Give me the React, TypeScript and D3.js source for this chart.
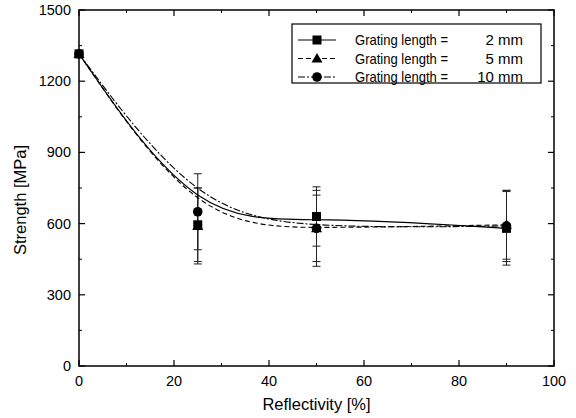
import * as d3 from "d3"
import React from "react"

const reflectivity = [0, 25, 50, 90]
const strength2 = [1315, 595, 630, 580]
const strength5 = [1315, 590, 580, 595]
const strength10 = [1315, 650, 580, 590]
const err2 = [0, 155, 125, 155]
const err5 = [0, 160, 160, 145]
const err10 = [0, 160, 140, 150]
const xTicks = [0, 20, 40, 60, 80, 100]
const yTicks = [0, 300, 600, 900, 1200, 1500]
const legendLabels = ["2 mm", "5 mm", "10 mm"]

const W = 576
const H = 418
const margin = { left: 79, right: 22, top: 10, bottom: 52 }
const font = "Liberation Sans, Arial, sans-serif"

export default function App() {
  const x = d3.scaleLinear().domain([0, 100]).range([margin.left, W - margin.right])
  const y = d3.scaleLinear().domain([0, 1500]).range([H - margin.bottom, margin.top])
  const line = d3.line<number>()
    .x((_, i) => x(reflectivity[i]))
    .y(d => y(d))
    .curve(d3.curveBasis)

  const series = [
    { vals: strength2, err: err2, dash: "none", marker: "square" },
    { vals: strength5, err: err5, dash: "5,3", marker: "triangle" },
    { vals: strength10, err: err10, dash: "7,2,2,2", marker: "circle" },
  ]

  const marker = (type: string, cx: number, cy: number, key?: string) => {
    if (type === "square") return <rect key={key} x={cx - 4.5} y={cy - 4.5} width={9} height={9} fill="#000" />
    if (type === "triangle") return <path key={key} d={`M${cx},${cy - 5.5}L${cx + 5.5},${cy + 4}L${cx - 5.5},${cy + 4}Z`} fill="#000" />
    return <circle key={key} cx={cx} cy={cy} r={4.8} fill="#000" />
  }

  const x0 = x(0), x1 = x(100), y0 = y(0), y1 = y(1500)
  const xMinor = d3.range(10, 100, 20)
  const yMinor = d3.range(150, 1500, 300)

  return (
    <svg width={W} height={H} style={{ position: "absolute", left: 0, top: 0 }}>
      <rect width={W} height={H} fill="#fff" />
      {/* error bars */}
      {series.map((s, si) =>
        s.vals.map((v, i) => s.err[i] > 0 && (
          <g key={`e${si}-${i}`} stroke="#222" strokeWidth={1}>
            <line x1={x(reflectivity[i])} x2={x(reflectivity[i])} y1={y(v + s.err[i])} y2={y(v - s.err[i])} />
            <line x1={x(reflectivity[i]) - 4} x2={x(reflectivity[i]) + 4} y1={y(v + s.err[i])} y2={y(v + s.err[i])} />
            <line x1={x(reflectivity[i]) - 4} x2={x(reflectivity[i]) + 4} y1={y(v - s.err[i])} y2={y(v - s.err[i])} />
          </g>
        ))
      )}
      {/* curves */}
      {series.map((s, si) => (
        <path key={`l${si}`} d={line(s.vals) || ""} fill="none" stroke="#000" strokeWidth={1.1} strokeDasharray={s.dash} />
      ))}
      {series.map((s, si) => s.vals.map((v, i) => marker(s.marker, x(reflectivity[i]), y(v), `m${si}-${i}`)))}
      {/* frame */}
      <rect x={x0} y={y1} width={x1 - x0} height={y0 - y1} fill="none" stroke="#000" strokeWidth={1.5} />
      {xTicks.map(t => (
        <g key={`xt${t}`}>
          <line x1={x(t)} x2={x(t)} y1={y0} y2={y0 - 6} stroke="#000" strokeWidth={1.2} />
          <line x1={x(t)} x2={x(t)} y1={y1} y2={y1 + 6} stroke="#000" strokeWidth={1.2} />
          <text x={x(t)} y={y0 + 20} textAnchor="middle" fontFamily={font} fontSize={14.5}>{t}</text>
        </g>
      ))}
      {xMinor.map(t => (
        <g key={`xm${t}`}>
          <line x1={x(t)} x2={x(t)} y1={y0} y2={y0 - 3} stroke="#000" />
          <line x1={x(t)} x2={x(t)} y1={y1} y2={y1 + 3} stroke="#000" />
        </g>
      ))}
      {yTicks.map(t => (
        <g key={`yt${t}`}>
          <line x1={x0} x2={x0 + 6} y1={y(t)} y2={y(t)} stroke="#000" strokeWidth={1.2} />
          <line x1={x1} x2={x1 - 6} y1={y(t)} y2={y(t)} stroke="#000" strokeWidth={1.2} />
          <text x={x0 - 8} y={y(t) + 5} textAnchor="end" fontFamily={font} fontSize={14.5}>{t}</text>
        </g>
      ))}
      {yMinor.map(t => (
        <g key={`ym${t}`}>
          <line x1={x0} x2={x0 + 3} y1={y(t)} y2={y(t)} stroke="#000" />
          <line x1={x1} x2={x1 - 3} y1={y(t)} y2={y(t)} stroke="#000" />
        </g>
      ))}
      <text x={(x0 + x1) / 2} y={y0 + 44} textAnchor="middle" fontFamily={font} fontSize={16.5}>Reflectivity [%]</text>
      <text transform={`translate(26,200) rotate(-90)`} textAnchor="middle" fontFamily={font} fontSize={16.5}>Strength [MPa]</text>
      {/* legend */}
      <rect x={292} y={24} width={249} height={59} fill="#fff" stroke="#000" strokeWidth={1.2} />
      {series.map((s, si) => {
        const ly = 40 + si * 18.5
        return (
          <g key={`lg${si}`}>
            <line x1={298} x2={336} y1={ly} y2={ly} stroke="#000" strokeWidth={1.1} strokeDasharray={s.dash === "none" ? undefined : s.dash} />
            {marker(s.marker, 317, ly)}
            <text x={355} y={ly + 5} fontFamily={font} fontSize={15} textLength={93} lengthAdjust="spacingAndGlyphs">Grating length =</text>
            <text x={523} y={ly + 5} textAnchor="end" fontFamily={font} fontSize={15}>{legendLabels[si]}</text>
          </g>
        )
      })}
    </svg>
  )
}
